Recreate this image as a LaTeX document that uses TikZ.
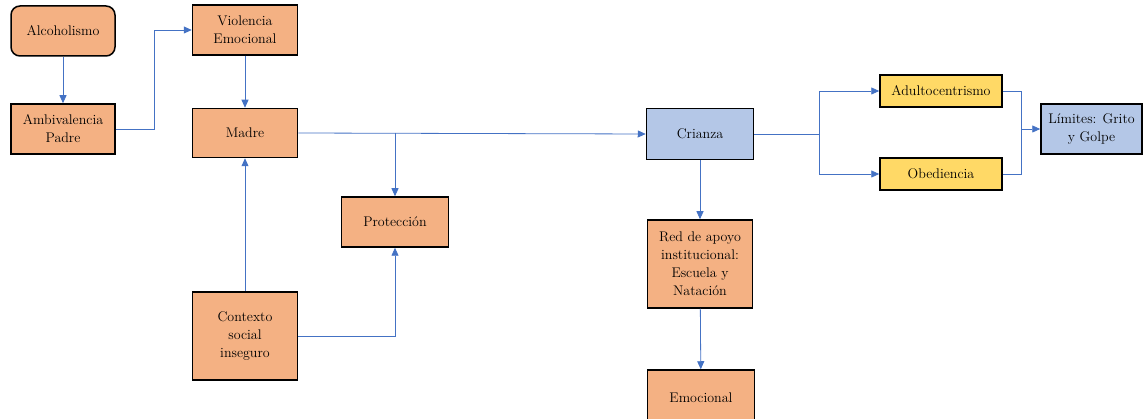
\documentclass[tikz,border=0pt]{standalone}
\usepackage{fontspec}
\usetikzlibrary{positioning}
\usetikzlibrary{arrows.meta}
\definecolor{boxorange}{HTML}{F4B183}
\definecolor{boxblue}{HTML}{B4C7E7}
\definecolor{boxyellow}{HTML}{FFD966}
\definecolor{linkblue}{HTML}{4472C4}
\tikzset{
    box/.style={draw=black, line width=1.5pt, inner sep=0pt, align=center,
        font=\fontsize{14}{18}\selectfont},
    orangebox/.style={box, fill=boxorange},
    bluebox/.style={box, fill=boxblue},
    yellowbox/.style={box, fill=boxyellow},
    link/.style={draw=linkblue, line width=0.8pt, -{Triangle[length=8pt,width=7pt]}},
    plainlink/.style={draw=linkblue, line width=0.8pt}
}

\begin{document}
\begin{tikzpicture}[x=1pt,y=-1pt]
    \clip (0,0) rectangle (1144,419);

    \node[orangebox, rounded corners=9pt, minimum width=104pt, minimum height=50pt] (ALC) at (63,31) {Alcoholismo};
    \node[orangebox, minimum width=104pt, minimum height=50pt] (AMB) at (63,129) {Ambivalencia\\Padre};
    \node[orangebox, minimum width=105pt, minimum height=50pt] (VIOL) at (245,30) {Violencia\\Emocional};
    \node[orangebox, minimum width=105pt, minimum height=49pt] (MADRE) at (245,133) {Madre};
    \node[orangebox, minimum width=107pt, minimum height=50pt] (PROT) at (395,222) {Protección};
    \node[orangebox, minimum width=105pt, minimum height=88pt] (CTX) at (245,336) {Contexto\\social\\inseguro};


    \node[bluebox, minimum width=107pt, minimum height=51pt] (CRIANZA) at (700,134) {Crianza};
    \node[orangebox, minimum width=105pt, minimum height=88pt] (RED) at (700,264) {Red de apoyo\\ institucional:\\Escuela y\\Natación};
    \node[orangebox, minimum width=107pt, minimum height=56pt] (EMO) at (701,398) {Emocional};

    \node[yellowbox, minimum width=122pt, minimum height=32pt] (ADULTO) at (941,91) {Adultocentrismo};
    \node[yellowbox, minimum width=122pt, minimum height=32pt] (OBED) at (941,174) {Obediencia};
    \node[bluebox, minimum width=101pt, minimum height=50pt] (LIM) at (1091.5,129) {Límites: Grito\\y Golpe};

    \draw[link] (ALC) -- (AMB);
    \draw[link] (AMB.east) -- ++(39,0) |- (VIOL.west);
    \draw[link] (VIOL) -- (MADRE);
    \draw[link] (CTX) -- (MADRE);
    \draw[link] (MADRE.east) -- (CRIANZA.west);
    \draw[link] (MADRE.east -| PROT.north) -- (PROT.north);
    \draw[link] (CTX.east) -| (PROT.south);

    \draw[link] (CRIANZA.east) -- ++(65,0) |- (ADULTO.west);
    \draw[link] (CRIANZA.east) -- ++(65,0) |- (OBED.west);
    \coordinate (JOIN) at (1021,129);
    \draw[plainlink] (ADULTO.east) -| (JOIN);
    \draw[plainlink] (OBED.east) -| (JOIN);
    \draw[link] (JOIN) -- (LIM.west);

    \draw[link] (CRIANZA) -- (RED);
    \draw[link] (RED) -- (EMO);

    %\draw[help lines] (0,0) grid (1144,419);
\end{tikzpicture}
\end{document}
